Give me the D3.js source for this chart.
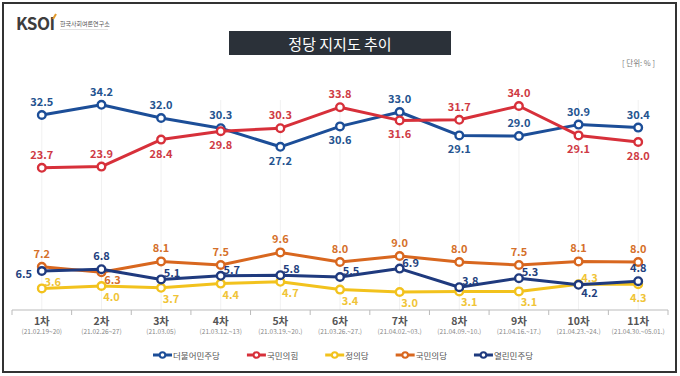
<!DOCTYPE html>
<html>
  <meta charset="utf-8" />
  <script src="https://d3js.org/d3.v7.min.js"></script>
  <style>
    body { margin: 0; background: #fff; }
    text { font-family: "Noto Sans CJK KR", "Noto Sans", sans-serif; }
  </style>
  <body>
    <svg width="680" height="376" id="chart"></svg>
  </body>
  <script>
    // rounds and survey dates
    const rounds = ["1차", "2차", "3차", "4차", "5차", "6차", "7차", "8차", "9차", "10차", "11차"];
    const dates = ["(21.02.19~20)", "(21.02.26~27)", "(21.03.05)", "(21.03.12.~13)", "(21.03.19.~20.)",
      "(21.03.26.~27.)", "(21.04.02.~03.)", "(21.04.09.~10.)", "(21.04.16.~17.)", "(21.04.23.~24.)", "(21.04.30.~05.01.)"];

    const minju = [32.5, 34.2, 32.0, 30.3, 27.2, 30.6, 33.0, 29.1, 29.0, 30.9, 30.4];
    const gukhim = [23.7, 23.9, 28.4, 29.8, 30.3, 33.8, 31.6, 31.7, 34.0, 29.1, 28.0];
    const jeongui = [3.6, 4.0, 3.7, 4.4, 4.7, 3.4, 3.0, 3.1, 3.1, 4.3, 4.3];
    const gukmin = [7.2, 6.3, 8.1, 7.5, 9.6, 8.0, 9.0, 8.0, 7.5, 8.1, 8.0];
    const yeollin = [6.5, 6.8, 5.1, 5.7, 5.8, 5.5, 6.9, 3.8, 5.3, 4.2, 4.8];

    // where each value label sits: a above, b below, l left, r right, ar above-right, br below-right
    const minjuLab = ["a", "a", "a", "a", "b", "b", "a", "b", "a", "a", "a"];
    const gukhimLab = ["a", "a", "b", "b", "a", "a", "b", "a", "a", "b", "b"];
    const jeonguiLab = ["ar", "br", "br", "br", "br", "br", "br", "br", "br", "ar", "b"];
    const gukminLab = ["a", "r", "a", "a", "a", "a", "a", "a", "a", "a", "a"];
    const yeollinLab = ["l", "a", "ar", "ar", "ar", "ar", "ar", "ar", "ar", "r", "a"];

    const series = [
      { name: "더불어민주당", values: minju, labs: minjuLab, color: "#1c4e98", text: "#24538f" },
      { name: "국민의힘", values: gukhim, labs: gukhimLab, color: "#d7303a", text: "#cf3a44" },
      { name: "정의당", values: jeongui, labs: jeonguiLab, color: "#f2c21d", text: "#f0c437" },
      { name: "국민의당", values: gukmin, labs: gukminLab, color: "#d8671f", text: "#d5702a" },
      { name: "열린민주당", values: yeollin, labs: yeollinLab, color: "#1f3a7e", text: "#243f7d" },
    ];

    const offsets = {
      a: [0, -14], b: [0, 13], l: [-18, 2], r: [11, 7], ar: [11, -7], br: [10, 10],
    };

    const svg = d3.select("#chart");

    // frame
    svg.append("rect").attr("x", 3).attr("y", 3).attr("width", 673).attr("height", 369)
      .attr("fill", "#fff").attr("stroke", "#333").attr("stroke-width", 2);

    // logo
    svg.append("text").attr("x", 16).attr("y", 30).attr("font-size", 17).attr("font-weight", 700)
      .attr("fill", "#3d3d3d").attr("letter-spacing", -0.5).text("KSOI");
    svg.append("line").attr("x1", 53).attr("y1", 19).attr("x2", 56).attr("y2", 14)
      .attr("stroke", "#e39a2b").attr("stroke-width", 2);
    svg.append("text").attr("x", 60).attr("y", 26).attr("font-size", 6).attr("fill", "#555")
      .text("한국사회여론연구소");
    svg.append("line").attr("x1", 60).attr("x2", 108).attr("y1", 29.5).attr("y2", 29.5)
      .attr("stroke", "#ccc").attr("stroke-width", 0.6);

    // title box
    svg.append("rect").attr("x", 229).attr("y", 31).attr("width", 222).attr("height", 24).attr("fill", "#2b3139");
    svg.append("text").attr("x", 340).attr("y", 43.5).attr("text-anchor", "middle")
      .attr("dominant-baseline", "central").attr("font-size", 15).attr("fill", "#fff").text("정당 지지도 추이");

    svg.append("text").attr("x", 655).attr("y", 62).attr("text-anchor", "end")
      .attr("dominant-baseline", "central").attr("font-size", 7.5).attr("fill", "#777").text("[ 단위: % ]");

    // scales
    const x = d3.scaleBand().domain(rounds).range([12, 668]);
    const cx = (d) => x(d) + x.bandwidth() / 2;
    const y = d3.scaleLinear().domain([0, 35]).range([310, 100]);

    // faint vertical guides
    svg.append("g").selectAll("line").data(rounds).join("line")
      .attr("x1", cx).attr("x2", cx).attr("y1", y(35)).attr("y2", y(0))
      .attr("stroke", "#f1f1f1").attr("stroke-width", 1);

    // x axis with ticks at band edges
    const axis = svg.append("g");
    axis.append("line").attr("x1", x.range()[0]).attr("x2", x.range()[1])
      .attr("y1", y(0)).attr("y2", y(0)).attr("stroke", "#bbb");
    const edges = rounds.map((d) => x(d)).concat([x.range()[1]]);
    axis.selectAll(".tk").data(edges).join("line").attr("class", "tk")
      .attr("x1", (d) => d).attr("x2", (d) => d).attr("y1", y(0)).attr("y2", y(0) + 5)
      .attr("stroke", "#bbb");
    axis.selectAll(".rl").data(rounds).join("text").attr("class", "rl")
      .attr("x", cx).attr("y", 320).attr("text-anchor", "middle").attr("dominant-baseline", "central")
      .attr("font-size", 10.5).attr("font-weight", 700).attr("fill", "#555").text((d) => d);
    axis.selectAll(".dl").data(rounds).join("text").attr("class", "dl")
      .attr("x", cx).attr("y", 331).attr("text-anchor", "middle").attr("dominant-baseline", "central")
      .attr("font-size", 6.5).attr("fill", "#888").text((d, i) => dates[i]);

    const line = d3.line().x((d, i) => cx(rounds[i])).y((d) => y(d));

    // lines and markers, series by series
    series.forEach((s) => {
      const g = svg.append("g");
      g.append("path").datum(s.values).attr("d", line).attr("fill", "none")
        .attr("stroke", s.color).attr("stroke-width", 3).attr("stroke-linejoin", "round");
      g.selectAll("circle").data(s.values).join("circle")
        .attr("cx", (d, i) => cx(rounds[i])).attr("cy", (d) => y(d)).attr("r", 3.8)
        .attr("fill", "#fff").attr("stroke", s.color).attr("stroke-width", 2.4);
    });

    // value labels on top
    series.forEach((s) => {
      svg.append("g").selectAll("text").data(s.values).join("text")
        .attr("x", (d, i) => cx(rounds[i]) + offsets[s.labs[i]][0])
        .attr("y", (d, i) => y(d) + offsets[s.labs[i]][1])
        .attr("text-anchor", "middle").attr("dominant-baseline", "central")
        .attr("font-size", 11).attr("font-weight", 700).attr("fill", s.text)
        .text((d) => d.toFixed(1));
    });

    // legend
    let lx = 153;
    const ly = 355;
    series.forEach((s) => {
      const g = svg.append("g");
      g.append("line").attr("x1", lx).attr("x2", lx + 19).attr("y1", ly).attr("y2", ly)
        .attr("stroke", s.color).attr("stroke-width", 3);
      g.append("circle").attr("cx", lx + 9.5).attr("cy", ly).attr("r", 2.8)
        .attr("fill", "#fff").attr("stroke", s.color).attr("stroke-width", 2);
      const t = g.append("text").attr("x", lx + 20).attr("y", ly).attr("dominant-baseline", "central")
        .attr("font-size", 8.5).attr("fill", "#555").text(s.name);
      lx += 20 + t.node().getComputedTextLength() + 27;
    });
  </script>
</html>
